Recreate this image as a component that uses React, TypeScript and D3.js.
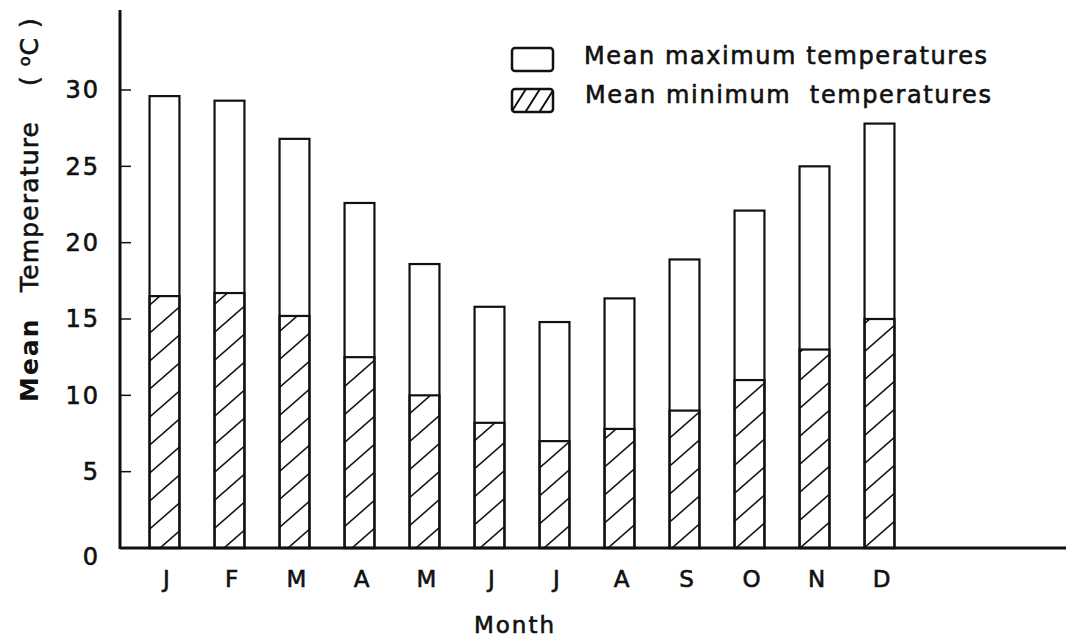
import React from "react"
import * as d3 from "d3"

// monthly means (°C)
const monthKeys = ["Jan", "Feb", "Mar", "Apr", "May", "Jun", "Jul", "Aug", "Sep", "Oct", "Nov", "Dec"]
const monthLabels = ["J", "F", "M", "A", "M", "J", "J", "A", "S", "O", "N", "D"]
const maxTemps = [29.6, 29.3, 26.8, 22.6, 18.6, 15.8, 14.8, 16.35, 18.9, 22.1, 25.0, 27.8]
const minTemps = [16.5, 16.7, 15.2, 12.5, 10.0, 8.2, 7.0, 7.8, 9.0, 11.0, 13.0, 15.0]
const yTicks = [0, 5, 10, 15, 20, 25, 30]
const legendLabels = ["Mean maximum temperatures", "Mean minimum  temperatures"]

const width = 1072
const height = 641
const font = "'DejaVu Sans', sans-serif"
const ink = "#111"

export default function App() {
    const axisX = 120
    const baseY = 548

    const y = d3.scaleLinear().domain([0, 30]).range([baseY, 90])
    const x = d3.scaleBand()
        .domain(monthKeys)
        .range([132, 912])
        .paddingInner(0.54)
        .paddingOuter(0.27)

    const data = monthKeys.map((k, i) => ({ key: k, label: monthLabels[i], max: maxTemps[i], min: minTemps[i] }))

    // scanned lettering is a bit heavier than the plain font
    const heavy = { stroke: ink, strokeWidth: 0.6 }

    return (
        <div style={{ position: "absolute", left: 0, top: 0 }}>
            <svg width={width} height={height} style={{ display: "block", background: "#fff" }}>
                <defs>
                    <pattern id="hatch" patternUnits="userSpaceOnUse" width={32} height={28} y={baseY}>
                        <path d="M0,28 L32,0 M-4,3.5 L4,-3.5 M28,31.5 L36,24.5" stroke={ink} strokeWidth={1.6} />
                    </pattern>
                    <pattern id="hatchSmall" patternUnits="userSpaceOnUse" width={14} height={22} x={512} y={89}>
                        <path d="M0,22 L14,0 M-3,4.7 L3,-4.7 M11,26.7 L17,17.3" stroke={ink} strokeWidth={2} />
                    </pattern>
                </defs>

                {/* bars */}
                {data.map(d => (
                    <g key={d.key}>
                        <rect x={x(d.key)} y={y(d.max)} width={x.bandwidth()} height={baseY - y(d.max)}
                            fill="#fff" stroke={ink} strokeWidth={2.2} />
                        <rect x={x(d.key)} y={y(d.min)} width={x.bandwidth()} height={baseY - y(d.min)}
                            fill="url(#hatch)" stroke={ink} strokeWidth={2.2} />
                    </g>
                ))}

                {/* axes */}
                <line x1={axisX} x2={axisX} y1={10} y2={baseY + 1} stroke={ink} strokeWidth={3} />
                <line x1={axisX} x2={1066} y1={baseY} y2={baseY} stroke={ink} strokeWidth={3} />
                {yTicks.map(t => (
                    <g key={t}>
                        {t > 0 && <line x1={axisX} x2={axisX + 11} y1={y(t)} y2={y(t)} stroke={ink} strokeWidth={1.5} />}
                        <text x={100} y={y(t) + (t === 0 ? 9 : 0)} dy="0.35em" textAnchor="end"
                            fontFamily={font} fontSize={24} letterSpacing={2} fill={ink} {...heavy}>{t}</text>
                    </g>
                ))}
                {data.map(d => (
                    <text key={d.key} x={x(d.key) + x.bandwidth() / 2 + 2} y={587} textAnchor="middle"
                        fontFamily={font} fontSize={23} fill={ink} {...heavy}>{d.label}</text>
                ))}

                {/* axis titles */}
                <text x={515} y={633} textAnchor="middle" fontFamily={font} fontSize={23}
                    letterSpacing={2} fill={ink} {...heavy}>Month</text>
                <g transform="rotate(-90)" fontFamily={font} fontSize={25} fill={ink}>
                    <text x={-402} y={38} fontWeight="bold" letterSpacing={2}>Mean</text>
                    <text x={-292} y={38} textLength={170} lengthAdjust="spacing" {...heavy}>Temperature</text>
                    <text x={-86} y={38} letterSpacing={1} {...heavy}>( <tspan dy={-8} fontSize={16}>o</tspan><tspan dy={8}>C )</tspan></text>
                </g>

                {/* legend */}
                <rect x={512} y={48} width={41} height={23} rx={3} fill="#fff" stroke={ink} strokeWidth={2.5} />
                <rect x={512} y={89} width={41} height={23} rx={3} fill="url(#hatchSmall)" stroke={ink} strokeWidth={2.5} />
                <text x={584} y={64} fontFamily={font} fontSize={24} fill={ink} {...heavy}
                    textLength={403} lengthAdjust="spacing" style={{ whiteSpace: "pre" }}>{legendLabels[0]}</text>
                <text x={585} y={103} fontFamily={font} fontSize={24} fill={ink} {...heavy}
                    textLength={406} lengthAdjust="spacing" style={{ whiteSpace: "pre" }}>{legendLabels[1]}</text>
            </svg>
        </div>
    )
}
